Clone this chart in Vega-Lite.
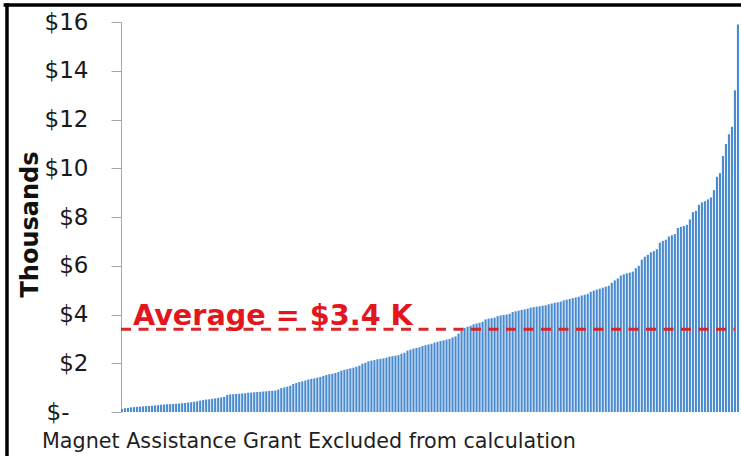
{
  "$schema": "https://vega.github.io/schema/vega-lite/v6.json",
  "width": 618,
  "height": 390,
  "autosize": "none",
  "padding": {"left": 121, "top": 22, "right": 2, "bottom": 44},
  "background": "white",
  "config": {"view": {"stroke": null}, "font": "DejaVu Sans"},
  "datasets": {
    "grants": [
      {"rank": 0, "amount": 0.12}, {"rank": 1, "amount": 0.15}, {"rank": 2, "amount": 0.17}, {"rank": 3, "amount": 0.19},
      {"rank": 4, "amount": 0.20}, {"rank": 5, "amount": 0.21}, {"rank": 6, "amount": 0.22}, {"rank": 7, "amount": 0.23},
      {"rank": 8, "amount": 0.24}, {"rank": 9, "amount": 0.25}, {"rank": 10, "amount": 0.26}, {"rank": 11, "amount": 0.27},
      {"rank": 12, "amount": 0.28}, {"rank": 13, "amount": 0.30}, {"rank": 14, "amount": 0.31}, {"rank": 15, "amount": 0.32},
      {"rank": 16, "amount": 0.32}, {"rank": 17, "amount": 0.33}, {"rank": 18, "amount": 0.34}, {"rank": 19, "amount": 0.35},
      {"rank": 20, "amount": 0.36}, {"rank": 21, "amount": 0.37}, {"rank": 22, "amount": 0.39}, {"rank": 23, "amount": 0.40},
      {"rank": 24, "amount": 0.42}, {"rank": 25, "amount": 0.44}, {"rank": 26, "amount": 0.47}, {"rank": 27, "amount": 0.49},
      {"rank": 28, "amount": 0.51}, {"rank": 29, "amount": 0.52}, {"rank": 30, "amount": 0.54}, {"rank": 31, "amount": 0.56},
      {"rank": 32, "amount": 0.58}, {"rank": 33, "amount": 0.60}, {"rank": 34, "amount": 0.62}, {"rank": 35, "amount": 0.70},
      {"rank": 36, "amount": 0.72}, {"rank": 37, "amount": 0.73}, {"rank": 38, "amount": 0.74}, {"rank": 39, "amount": 0.75},
      {"rank": 40, "amount": 0.76}, {"rank": 41, "amount": 0.77}, {"rank": 42, "amount": 0.79}, {"rank": 43, "amount": 0.80},
      {"rank": 44, "amount": 0.81}, {"rank": 45, "amount": 0.82}, {"rank": 46, "amount": 0.83}, {"rank": 47, "amount": 0.84},
      {"rank": 48, "amount": 0.85}, {"rank": 49, "amount": 0.86}, {"rank": 50, "amount": 0.87}, {"rank": 51, "amount": 0.88},
      {"rank": 52, "amount": 0.92}, {"rank": 53, "amount": 0.98}, {"rank": 54, "amount": 1.01}, {"rank": 55, "amount": 1.04},
      {"rank": 56, "amount": 1.08}, {"rank": 57, "amount": 1.15}, {"rank": 58, "amount": 1.19}, {"rank": 59, "amount": 1.23},
      {"rank": 60, "amount": 1.26}, {"rank": 61, "amount": 1.29}, {"rank": 62, "amount": 1.33}, {"rank": 63, "amount": 1.36},
      {"rank": 64, "amount": 1.38}, {"rank": 65, "amount": 1.41}, {"rank": 66, "amount": 1.44}, {"rank": 67, "amount": 1.48},
      {"rank": 68, "amount": 1.52}, {"rank": 69, "amount": 1.55}, {"rank": 70, "amount": 1.57}, {"rank": 71, "amount": 1.60},
      {"rank": 72, "amount": 1.64}, {"rank": 73, "amount": 1.70}, {"rank": 74, "amount": 1.73}, {"rank": 75, "amount": 1.76},
      {"rank": 76, "amount": 1.79}, {"rank": 77, "amount": 1.82}, {"rank": 78, "amount": 1.86}, {"rank": 79, "amount": 1.90},
      {"rank": 80, "amount": 1.98}, {"rank": 81, "amount": 2.02}, {"rank": 82, "amount": 2.08}, {"rank": 83, "amount": 2.11},
      {"rank": 84, "amount": 2.13}, {"rank": 85, "amount": 2.16}, {"rank": 86, "amount": 2.18}, {"rank": 87, "amount": 2.20},
      {"rank": 88, "amount": 2.23}, {"rank": 89, "amount": 2.27}, {"rank": 90, "amount": 2.29}, {"rank": 91, "amount": 2.31},
      {"rank": 92, "amount": 2.33}, {"rank": 93, "amount": 2.39}, {"rank": 94, "amount": 2.43}, {"rank": 95, "amount": 2.52},
      {"rank": 96, "amount": 2.56}, {"rank": 97, "amount": 2.60}, {"rank": 98, "amount": 2.63}, {"rank": 99, "amount": 2.66},
      {"rank": 100, "amount": 2.71}, {"rank": 101, "amount": 2.74}, {"rank": 102, "amount": 2.77}, {"rank": 103, "amount": 2.80},
      {"rank": 104, "amount": 2.85}, {"rank": 105, "amount": 2.88}, {"rank": 106, "amount": 2.91}, {"rank": 107, "amount": 2.94},
      {"rank": 108, "amount": 2.97}, {"rank": 109, "amount": 3.00}, {"rank": 110, "amount": 3.06}, {"rank": 111, "amount": 3.10},
      {"rank": 112, "amount": 3.22}, {"rank": 113, "amount": 3.33}, {"rank": 114, "amount": 3.45}, {"rank": 115, "amount": 3.50},
      {"rank": 116, "amount": 3.54}, {"rank": 117, "amount": 3.60}, {"rank": 118, "amount": 3.63}, {"rank": 119, "amount": 3.66},
      {"rank": 120, "amount": 3.70}, {"rank": 121, "amount": 3.80}, {"rank": 122, "amount": 3.83}, {"rank": 123, "amount": 3.85},
      {"rank": 124, "amount": 3.87}, {"rank": 125, "amount": 3.93}, {"rank": 126, "amount": 3.96}, {"rank": 127, "amount": 3.98},
      {"rank": 128, "amount": 4.00}, {"rank": 129, "amount": 4.03}, {"rank": 130, "amount": 4.10}, {"rank": 131, "amount": 4.13},
      {"rank": 132, "amount": 4.16}, {"rank": 133, "amount": 4.19}, {"rank": 134, "amount": 4.21}, {"rank": 135, "amount": 4.24},
      {"rank": 136, "amount": 4.28}, {"rank": 137, "amount": 4.30}, {"rank": 138, "amount": 4.32}, {"rank": 139, "amount": 4.34},
      {"rank": 140, "amount": 4.36}, {"rank": 141, "amount": 4.38}, {"rank": 142, "amount": 4.42}, {"rank": 143, "amount": 4.45},
      {"rank": 144, "amount": 4.48}, {"rank": 145, "amount": 4.50}, {"rank": 146, "amount": 4.53}, {"rank": 147, "amount": 4.58},
      {"rank": 148, "amount": 4.61}, {"rank": 149, "amount": 4.64}, {"rank": 150, "amount": 4.67}, {"rank": 151, "amount": 4.70},
      {"rank": 152, "amount": 4.73}, {"rank": 153, "amount": 4.78}, {"rank": 154, "amount": 4.81}, {"rank": 155, "amount": 4.85},
      {"rank": 156, "amount": 4.93}, {"rank": 157, "amount": 4.98}, {"rank": 158, "amount": 5.02}, {"rank": 159, "amount": 5.06},
      {"rank": 160, "amount": 5.10}, {"rank": 161, "amount": 5.14}, {"rank": 162, "amount": 5.18}, {"rank": 163, "amount": 5.30},
      {"rank": 164, "amount": 5.40}, {"rank": 165, "amount": 5.48}, {"rank": 166, "amount": 5.60}, {"rank": 167, "amount": 5.65},
      {"rank": 168, "amount": 5.69}, {"rank": 169, "amount": 5.72}, {"rank": 170, "amount": 5.76}, {"rank": 171, "amount": 5.90},
      {"rank": 172, "amount": 6.00}, {"rank": 173, "amount": 6.25}, {"rank": 174, "amount": 6.37}, {"rank": 175, "amount": 6.45},
      {"rank": 176, "amount": 6.55}, {"rank": 177, "amount": 6.60}, {"rank": 178, "amount": 6.68}, {"rank": 179, "amount": 6.95},
      {"rank": 180, "amount": 7.02}, {"rank": 181, "amount": 7.07}, {"rank": 182, "amount": 7.20}, {"rank": 183, "amount": 7.25},
      {"rank": 184, "amount": 7.30}, {"rank": 185, "amount": 7.55}, {"rank": 186, "amount": 7.60}, {"rank": 187, "amount": 7.63},
      {"rank": 188, "amount": 7.68}, {"rank": 189, "amount": 7.90}, {"rank": 190, "amount": 8.20}, {"rank": 191, "amount": 8.25},
      {"rank": 192, "amount": 8.50}, {"rank": 193, "amount": 8.60}, {"rank": 194, "amount": 8.65}, {"rank": 195, "amount": 8.72},
      {"rank": 196, "amount": 8.80}, {"rank": 197, "amount": 9.10}, {"rank": 198, "amount": 9.65}, {"rank": 199, "amount": 9.80},
      {"rank": 200, "amount": 10.50}, {"rank": 201, "amount": 11.00}, {"rank": 202, "amount": 11.40}, {"rank": 203, "amount": 11.70},
      {"rank": 204, "amount": 13.20}, {"rank": 205, "amount": 15.90}
    ],
    "notes": [
      {"average": 3.4, "label": "Average = $3.4 K", "footnote": "Magnet Assistance Grant Excluded from calculation"}
    ]
  },
  "resolve": {"scale": {"x": "independent"}},
  "layer": [
    {
      "data": {"name": "grants"},
      "mark": {"type": "bar", "color": "#4a8bd0"},
      "encoding": {
        "x": {"field": "rank", "type": "ordinal", "axis": null, "scale": {"paddingInner": 0.3, "paddingOuter": 0}},
        "y": {
          "field": "amount",
          "type": "quantitative",
          "scale": {"domain": [0, 16], "nice": false},
          "axis": {
            "title": "Thousands",
            "titleFont": "DejaVu Sans",
            "titleFontSize": 24,
            "titleFontWeight": "bold",
            "titleColor": "#111111",
            "titleAngle": -90,
            "titleAlign": "center",
            "titleBaseline": "alphabetic",
            "titleX": -84,
            "titleY": 202,
            "values": [0, 2, 4, 6, 8, 10, 12, 14, 16],
            "labelExpr": "datum.value == 0 ? '$-' : '$' + datum.value",
            "labelFont": "DejaVu Sans",
            "labelFontSize": 23,
            "labelColor": "#1a1a1a",
            "labelPadding": {"condition": {"test": "datum.value == 0", "value": 42}, "value": 23},
            "tickSize": 10,
            "tickColor": "#a6a6a6",
            "domainColor": "#a6a6a6",
            "grid": false
          }
        }
      }
    },
    {
      "data": {"name": "notes"},
      "mark": {"type": "rule", "color": "#d9262b", "strokeWidth": 3, "strokeDash": [10, 7.5]},
      "encoding": {
        "x": {"datum": 0, "type": "quantitative", "scale": {"domain": [0, 1]}, "axis": null},
        "x2": {"datum": 0.9935},
        "y": {"field": "average", "type": "quantitative", "scale": {"domain": [0, 16], "nice": false}}
      }
    },
    {
      "data": {"name": "notes"},
      "mark": {"type": "text", "align": "left", "baseline": "alphabetic", "font": "DejaVu Sans", "fontSize": 28.7, "fontWeight": "bold", "color": "#e3161e"},
      "encoding": {
        "x": {"datum": 0.0194, "type": "quantitative", "scale": {"domain": [0, 1]}, "axis": null},
        "y": {"datum": 3.57, "type": "quantitative", "scale": {"domain": [0, 16], "nice": false}},
        "text": {"field": "label"}
      }
    },
    {
      "data": {"name": "notes"},
      "mark": {"type": "text", "align": "left", "baseline": "alphabetic", "font": "DejaVu Sans", "fontSize": 20.7, "color": "#1f1f1f"},
      "encoding": {
        "x": {"datum": -0.1278, "type": "quantitative", "scale": {"domain": [0, 1]}, "axis": null},
        "y": {"datum": -1.477, "type": "quantitative", "scale": {"domain": [0, 16], "nice": false}},
        "text": {"field": "footnote"}
      }
    },
    {
      "data": {"name": "notes"},
      "mark": {"type": "rule", "color": "#000000", "strokeWidth": 3.5},
      "encoding": {
        "x": {"datum": -0.19, "type": "quantitative", "scale": {"domain": [0, 1]}, "axis": null},
        "x2": {"datum": 1.02},
        "y": {"datum": 16.7, "type": "quantitative", "scale": {"domain": [0, 16], "nice": false}}
      }
    },
    {
      "data": {"name": "notes"},
      "mark": {"type": "rule", "color": "#000000", "strokeWidth": 3.5},
      "encoding": {
        "x": {"datum": -0.1845, "type": "quantitative", "scale": {"domain": [0, 1]}, "axis": null},
        "y": {"datum": 16.77, "type": "quantitative", "scale": {"domain": [0, 16], "nice": false}},
        "y2": {"datum": -2.2}
      }
    }
  ]
}
